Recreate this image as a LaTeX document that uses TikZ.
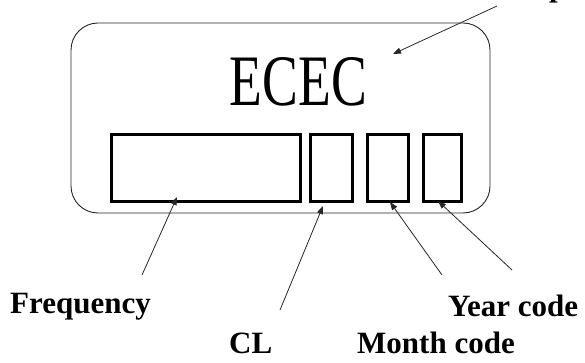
\documentclass[tikz,border=0pt]{standalone}
\usepackage{fontspec}
\setmainfont{Liberation Serif}
\usetikzlibrary{arrows.meta}
\begin{document}
\begin{tikzpicture}[x=1pt,y=-1pt,
  frame/.style={draw=black!85, line width=0.9pt, rounded corners=27pt},
  field/.style={draw, line width=3pt, inner sep=0pt, minimum height=67pt},
  arr/.style={draw=black!85, line width=0.8pt, -{Triangle[length=8pt,width=6pt]}},
  lbl/.style={font=\fontsize{31}{31}\selectfont\bfseries, inner sep=0pt},
  big/.style={font=\fontsize{72.5}{72.5}\selectfont, inner sep=0pt}]
\useasboundingbox (0,0) rectangle (585,363);
\draw[frame] (71,23) rectangle (490,213);
\node[big, anchor=base] (title) at (298.5,106) {\scalebox{0.74}[1]{ECEC}};
\node[field, minimum width=189pt] (freqbox) at (206,168) {};
\node[field, minimum width=42pt] (clbox) at (331.5,168) {};
\node[field, minimum width=41pt] (monbox) at (388,168) {};
\node[field, minimum width=38pt] (yearbox) at (442.5,168) {};
% labels
\node[lbl, anchor=base west] (freq) at (10,313) {Frequency};
\node[lbl, anchor=base west] (year) at (448,316) {Year code};
\node[lbl, anchor=base west] (cl) at (229,353) {CL};
\node[lbl, anchor=base west] (month) at (357,353) {Month code};
\node[lbl, anchor=base west] (top) at (549,-3) {p};
% arrow ends
\coordinate (toptail) at (497,6);
\coordinate (toptip) at (393,54);
\coordinate (freqtail) at (142,275);
\coordinate (freqtip) at (177,197);
\coordinate (cltail) at (280,310);
\coordinate (cltip) at (323,206);
\coordinate (montail) at (442,275);
\coordinate (montip) at (390,202);
\coordinate (yeartail) at (512,270);
\coordinate (yeartip) at (438,201);
\draw[arr] (toptail) -- (toptip);
\draw[arr] (freqtail) -- (freqtip);
\draw[arr] (cltail) -- (cltip);
\draw[arr] (montail) -- (montip);
\draw[arr] (yeartail) -- (yeartip);
\end{tikzpicture}
\end{document}
